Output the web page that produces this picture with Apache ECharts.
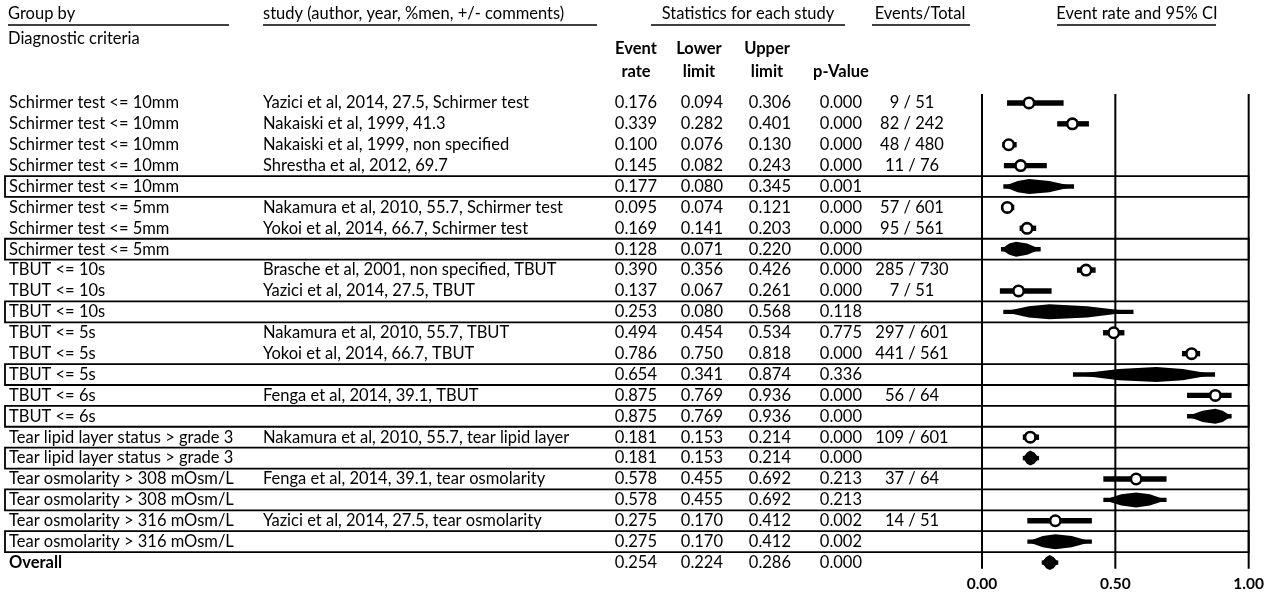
<!DOCTYPE html>
<html><head><meta charset="utf-8">
<script src="https://cdn.jsdelivr.net/npm/echarts@6/dist/echarts.min.js"></script>
<style>html,body{margin:0;padding:0;background:#fff;}#chart{width:1267px;height:592px;}</style>
</head><body><div id="chart"></div>
<script>
// ---------- data ----------
const groups = [
  'Schirmer test <= 10mm','Schirmer test <= 10mm','Schirmer test <= 10mm','Schirmer test <= 10mm','Schirmer test <= 10mm',
  'Schirmer test <= 5mm','Schirmer test <= 5mm','Schirmer test <= 5mm',
  'TBUT <= 10s','TBUT <= 10s','TBUT <= 10s',
  'TBUT <= 5s','TBUT <= 5s','TBUT <= 5s',
  'TBUT <= 6s','TBUT <= 6s',
  'Tear lipid layer status > grade 3','Tear lipid layer status > grade 3',
  'Tear osmolarity > 308 mOsm/L','Tear osmolarity > 308 mOsm/L',
  'Tear osmolarity > 316 mOsm/L','Tear osmolarity > 316 mOsm/L',
  'Overall'
];
const studies = [
  'Yazici et al, 2014, 27.5, Schirmer test','Nakaiski et al, 1999, 41.3','Nakaiski et al, 1999, non specified','Shrestha et al, 2012, 69.7','',
  'Nakamura et al, 2010, 55.7, Schirmer test','Yokoi et al, 2014, 66.7, Schirmer test','',
  'Brasche et al, 2001, non specified, TBUT','Yazici et al, 2014, 27.5, TBUT','',
  'Nakamura et al, 2010, 55.7, TBUT','Yokoi et al, 2014, 66.7, TBUT','',
  'Fenga et al, 2014, 39.1, TBUT','',
  'Nakamura et al, 2010, 55.7, tear lipid layer','',
  'Fenga et al, 2014, 39.1, tear osmolarity','',
  'Yazici et al, 2014, 27.5, tear osmolarity','',
  ''
];
const rowKinds = [
  'study','study','study','study','summary',
  'study','study','summary',
  'study','study','summary',
  'study','study','summary',
  'study','summary',
  'study','summary',
  'study','summary',
  'study','summary',
  'overall'
];
const eventRates = [0.176,0.339,0.100,0.145,0.177, 0.095,0.169,0.128, 0.390,0.137,0.253, 0.494,0.786,0.654, 0.875,0.875, 0.181,0.181, 0.578,0.578, 0.275,0.275, 0.254];
const lowerLimits = [0.094,0.282,0.076,0.082,0.080, 0.074,0.141,0.071, 0.356,0.067,0.080, 0.454,0.750,0.341, 0.769,0.769, 0.153,0.153, 0.455,0.455, 0.170,0.170, 0.224];
const upperLimits = [0.306,0.401,0.130,0.243,0.345, 0.121,0.203,0.220, 0.426,0.261,0.568, 0.534,0.818,0.874, 0.936,0.936, 0.214,0.214, 0.692,0.692, 0.412,0.412, 0.286];
const pValues = [0.000,0.000,0.000,0.000,0.001, 0.000,0.000,0.000, 0.000,0.000,0.118, 0.775,0.000,0.336, 0.000,0.000, 0.000,0.000, 0.213,0.213, 0.002,0.002, 0.000];
const eventsTotal = ['9 / 51','82 / 242','48 / 480','11 / 76','', '57 / 601','95 / 561','', '285 / 730','7 / 51','', '297 / 601','441 / 561','', '56 / 64','', '109 / 601','', '37 / 64','', '14 / 51','', ''];
const xTickLabels = ['0.00','0.50','1.00'];
const refLines = [0, 0.5, 1];

// ---------- layout / style ----------
const FONT_FAMILY = 'Lato, "Liberation Sans", sans-serif';
const FS = 16.5;
const font = (bold) => (bold ? 'bold ' : '') + FS + 'px ' + FONT_FAMILY;
const COL = { group: 9, study: 263, rate: 657, lower: 723, upper: 791, p: 862, events: 912, boxLeft: 5 };

const chart = echarts.init(document.getElementById('chart'), null, { renderer: 'canvas' });
const idx = groups.map((_, i) => i);

function txt(x, y, text, align, bold) {
  return { type: 'text', x: x, y: y, style: { text: text, font: font(bold), fill: '#000', align: align, verticalAlign: 'middle' } };
}

const headerEls = [];
function hdr(x, y, text, align, bold) { headerEls.push(txt(x, y, text, align, bold)); }
function uline(x1, x2, y) { headerEls.push({ type: 'line', shape: { x1: x1, y1: y, x2: x2, y2: y }, style: { stroke: '#000', lineWidth: 1.6 } }); }
hdr(8, 14, 'Group by', 'left'); uline(8, 229, 25);
hdr(263, 14, 'study (author, year, %men, +/- comments)', 'left'); uline(263, 597, 25);
hdr(748, 14, 'Statistics for each study', 'center'); uline(651, 845, 25);
hdr(920, 14, 'Events/Total', 'center'); uline(872, 970, 25);
hdr(1137, 14, 'Event rate and 95% CI', 'center'); uline(1057, 1216, 25);
hdr(8, 39, 'Diagnostic criteria', 'left');
hdr(636, 49, 'Event', 'center', true); hdr(636, 72, 'rate', 'center', true);
hdr(699, 49, 'Lower', 'center', true); hdr(699, 72, 'limit', 'center', true);
hdr(767, 49, 'Upper', 'center', true); hdr(767, 72, 'limit', 'center', true);
hdr(841, 72, 'p-Value', 'center', true);

const option = {
  animation: false,
  backgroundColor: '#fff',
  graphic: { elements: headerEls },
  grid: { left: 982, right: 18, top: 92.5, bottom: 18.8 },
  xAxis: {
    type: 'value', min: 0, max: 1, interval: 0.5,
    axisLine: { show: false }, axisTick: { show: false }, splitLine: { show: false },
    axisLabel: { margin: 3, color: '#000', fontWeight: 'bold', fontSize: 15.5, fontFamily: FONT_FAMILY,
      formatter: (v) => xTickLabels[Math.round(v / 0.5)] }
  },
  yAxis: { type: 'value', inverse: true, min: 0, max: 23, show: false },
  series: [
    { // summary row boxes
      type: 'custom', clip: false, z: 1,
      data: idx.filter(i => rowKinds[i] === 'summary').map(i => [0, i]),
      renderItem: (params, api) => {
        const i = api.value(1);
        const y0 = api.coord([0, i])[1], y1 = api.coord([0, i + 1])[1];
        const xr = api.coord([1, i])[0];
        return { type: 'rect', shape: { x: COL.boxLeft, y: y0, width: xr - COL.boxLeft, height: y1 - y0 },
          style: { fill: 'none', stroke: '#000', lineWidth: 1.8 } };
      }
    },
    { // reference vertical lines
      type: 'custom', clip: false, z: 2,
      data: refLines.map(v => [v, 0]),
      renderItem: (params, api) => {
        const p0 = api.coord([api.value(0), 0.07]);
        const p1 = api.coord([api.value(0), 22.8]);
        return { type: 'line', shape: { x1: p0[0], y1: p0[1], x2: p1[0], y2: p1[1] }, style: { stroke: '#000', lineWidth: 2 } };
      }
    },
    { // table text
      type: 'custom', clip: false, z: 3,
      data: idx.map(i => [eventRates[i], i]),
      renderItem: (params, api) => {
        const i = params.dataIndex;
        const y = api.coord([0, i + 0.5])[1];
        const b = rowKinds[i] === 'overall';
        const ch = [
          txt(COL.group, y, groups[i], 'left', b),
          txt(COL.rate, y, eventRates[i].toFixed(3), 'right'),
          txt(COL.lower, y, lowerLimits[i].toFixed(3), 'right'),
          txt(COL.upper, y, upperLimits[i].toFixed(3), 'right'),
          txt(COL.p, y, pValues[i].toFixed(3), 'right')
        ];
        if (studies[i]) ch.push(txt(COL.study, y, studies[i], 'left'));
        if (eventsTotal[i]) ch.push(txt(COL.events, y, eventsTotal[i], 'center'));
        return { type: 'group', children: ch };
      }
    },
    { // study markers with CI bars
      type: 'custom', clip: false, z: 4,
      data: idx.filter(i => rowKinds[i] === 'study').map(i => [eventRates[i], i + 0.5, lowerLimits[i], upperLimits[i]]),
      renderItem: (params, api) => {
        const c = api.coord([api.value(0), api.value(1)]);
        const lo = api.coord([api.value(2), api.value(1)])[0];
        const hi = api.coord([api.value(3), api.value(1)])[0];
        return { type: 'group', children: [
          { type: 'rect', shape: { x: lo, y: c[1] - 2.7, width: hi - lo, height: 5.4 }, style: { fill: '#000' } },
          { type: 'circle', shape: { cx: c[0], cy: c[1], r: 5.2 }, style: { fill: '#fff', stroke: '#000', lineWidth: 2.6 } }
        ] };
      }
    },
    { // summary diamonds
      type: 'custom', clip: false, z: 4,
      data: idx.filter(i => rowKinds[i] !== 'study').map(i => [eventRates[i], i + 0.5, lowerLimits[i], upperLimits[i]]),
      renderItem: (params, api) => {
        const c = api.coord([api.value(0), api.value(1)]);
        const lo = api.coord([api.value(2), api.value(1)])[0];
        const hi = api.coord([api.value(3), api.value(1)])[0];
        const h = 7.5;
        const m1 = c[0] - (c[0] - lo) * 0.45, m2 = c[0] + (hi - c[0]) * 0.45;
        return { type: 'group', children: [
          { type: 'rect', shape: { x: lo, y: c[1] - 2.2, width: hi - lo, height: 4.4 }, style: { fill: '#000' } },
          { type: 'polygon', shape: { points: [[lo, c[1]], [m1, c[1] - h * 0.75], [c[0], c[1] - h], [m2, c[1] - h * 0.75], [hi, c[1]], [m2, c[1] + h * 0.75], [c[0], c[1] + h], [m1, c[1] + h * 0.75]] }, style: { fill: '#000' } }
        ] };
      }
    }
  ]
};
chart.setOption(option);
</script>
</body></html>
